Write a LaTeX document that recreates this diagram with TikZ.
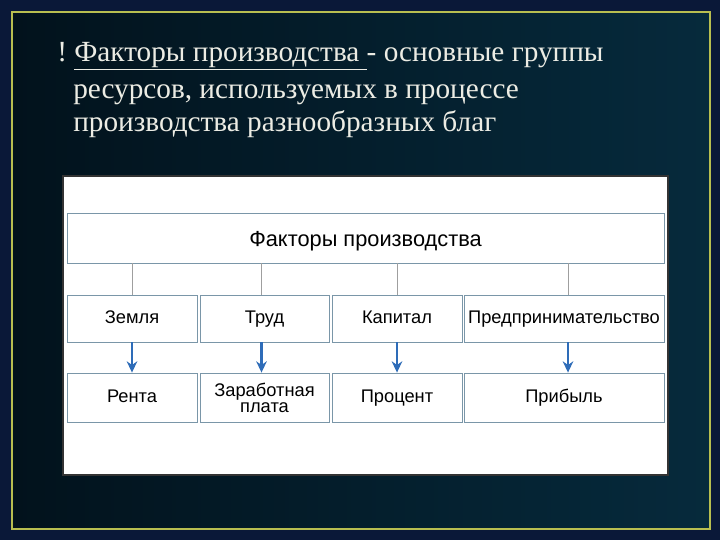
\documentclass[tikz,border=0pt]{standalone}
\usepackage{fontspec}
\setmainfont{Liberation Serif}
\newfontfamily\boxfont{Liberation Sans}
\usetikzlibrary{arrows.meta,positioning}
\definecolor{bgnavy}{HTML}{0A1838}
\definecolor{bgdark}{HTML}{02121C}
\definecolor{bgteal}{HTML}{062A3C}
\definecolor{frameyel}{HTML}{B8BE50}
\definecolor{titletxt}{HTML}{ECECE4}
\definecolor{cellline}{HTML}{7A96A8}
\definecolor{arrowblue}{HTML}{2E6CB8}

\begin{document}
\begin{tikzpicture}[x=0.025cm,y=-0.025cm,
  cell/.style={draw=cellline,line width=0.6pt,fill=white,inner sep=0pt,font=\boxfont\fontsize{13}{13.5}\selectfont,align=center,text height=9.3pt,text depth=2.2pt},
  title/.style={anchor=base west,text=titletxt,font=\fontsize{20.8}{22}\selectfont,inner sep=0pt},
  link/.style={draw=gray!75,line width=0.6pt},
  flow/.style={draw=arrowblue,line width=1.5pt,-{Stealth[length=8pt,width=7.5pt]}}]

  % background and frame
  \fill[bgnavy] (0,0) rectangle (720,540);
  \shade[left color=bgdark,right color=bgteal] (12,12) rectangle (710,529);
  \draw[frameyel,line width=1.4pt] (12,12) rectangle (710,529);

  % heading
  \node[title] (t1) at (57,61) {!\ \underline{Факторы производства }- основные группы};
  \node[title] (t2) at (73,98) {ресурсов, используемых в процессе};
  \node[title] (t3) at (73,131) {производства разнообразных благ};

  % white panel
  \draw[fill=white,draw=black!80,line width=0.8pt] (63,176) rectangle (668,475);

  \node[cell,minimum width=597*0.025cm,minimum height=50*0.025cm,font=\boxfont\fontsize{15.5}{16}\selectfont,text height=14pt,text depth=2pt] (top) at (365.5,238) {Факторы производства};

  \node[cell,minimum width=130*0.025cm,minimum height=47*0.025cm] (f1) at (132,318.5) {Земля};
  \node[cell,minimum width=129*0.025cm,minimum height=47*0.025cm] (f2) at (264.5,318.5) {Труд};
  \node[cell,minimum width=130*0.025cm,minimum height=47*0.025cm] (f3) at (397,318.5) {Капитал};
  \node[cell,minimum width=200*0.025cm,minimum height=47*0.025cm] (f4) at (564,318.5) {Предпринимательство};

  \node[cell,minimum width=130*0.025cm,minimum height=49*0.025cm] (r1) at (132,397.5) {Рента};
  \node[cell,minimum width=129*0.025cm,minimum height=49*0.025cm,text height=,text depth=,font=\boxfont\fontsize{13}{11.5}\selectfont] (r2) at (264.5,397.5) {Заработная\\плата};
  \node[cell,minimum width=130*0.025cm,minimum height=49*0.025cm] (r3) at (397,397.5) {Процент};
  \node[cell,minimum width=200*0.025cm,minimum height=49*0.025cm] (r4) at (564,397.5) {Прибыль};

  \foreach \i/\dx in {1/0,2/-3,3/0,4/4}{
    \draw[link] ([xshift=\dx*0.025cm]f\i.north |- top.south) -- ([xshift=\dx*0.025cm]f\i.north);
    \draw[flow] ([xshift=\dx*0.025cm]f\i.south) -- ([xshift=\dx*0.025cm]r\i.north);
  }
\end{tikzpicture}
\end{document}
